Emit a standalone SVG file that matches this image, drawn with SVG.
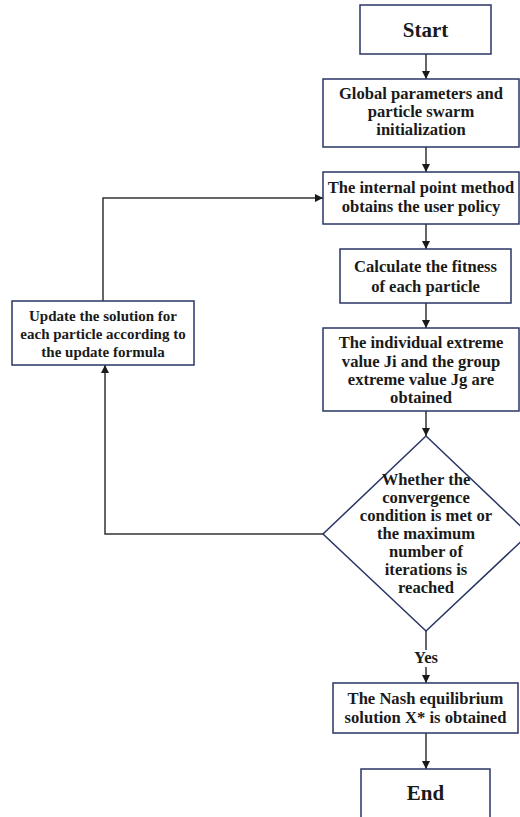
<svg xmlns="http://www.w3.org/2000/svg" width="520" height="817" viewBox="0 0 520 817">
<style>
.box{fill:#fff;stroke:#2a3566;stroke-width:1.5}
.t{font-family:"Liberation Serif","Times New Roman",serif;font-weight:bold;fill:#1a1a1a;text-anchor:middle}
.m{font-size:16.6px}
.s{font-size:15px}
.b{font-size:21px}
.c{fill:none;stroke:#333;stroke-width:1.5}
</style>
<defs>
<marker id="ah" viewBox="0 0 10 10" refX="10" refY="5" markerWidth="8" markerHeight="8" markerUnits="userSpaceOnUse" orient="auto">
<path d="M0,0 L10,5 L0,10 z" fill="#1a1a1a"/>
</marker>
</defs>
<rect width="520" height="817" fill="#fff"/>
<g id="connectors">
<line class="c" x1="426" y1="54" x2="426" y2="79" marker-end="url(#ah)"/>
<line class="c" x1="426" y1="147" x2="426" y2="172" marker-end="url(#ah)"/>
<line class="c" x1="426" y1="224" x2="426" y2="249" marker-end="url(#ah)"/>
<line class="c" x1="426" y1="303" x2="426" y2="328" marker-end="url(#ah)"/>
<line class="c" x1="426" y1="411" x2="426" y2="436" marker-end="url(#ah)"/>
<line class="c" x1="426" y1="631" x2="426" y2="650"/>
<line class="c" x1="426" y1="667" x2="426" y2="683" marker-end="url(#ah)"/>
<line class="c" x1="426" y1="733" x2="426" y2="769" marker-end="url(#ah)"/>
<polyline class="c" points="323,534 105,534 105,365" marker-end="url(#ah)"/>
<polyline class="c" points="103,301 103,198 323,198" marker-end="url(#ah)"/>
<text class="t m" x="426" y="663">Yes</text>
</g>
<g id="start">
<rect class="box" x="360" y="5" width="131" height="49"/>
<text class="t b" x="425.5" y="37">Start</text>
</g>
<g id="init">
<rect class="box" x="323" y="79" width="196" height="68"/>
<text class="t m" x="421" y="99">Global parameters and</text>
<text class="t m" x="421" y="117">particle swarm</text>
<text class="t m" x="421" y="135">initialization</text>
</g>
<g id="ipm">
<rect class="box" x="323" y="172" width="196" height="52"/>
<text class="t m" x="421" y="193">The internal point method</text>
<text class="t m" x="421" y="212">obtains the user policy</text>
</g>
<g id="fitness">
<rect class="box" x="340" y="249" width="171" height="54"/>
<text class="t m" x="425.5" y="272">Calculate the fitness</text>
<text class="t m" x="425.5" y="292">of each particle</text>
</g>
<g id="extreme">
<rect class="box" x="323" y="328" width="196" height="83"/>
<text class="t m" x="421" y="348">The individual extreme</text>
<text class="t m" x="421" y="367">value Ji and the group</text>
<text class="t m" x="421" y="385">extreme value Jg are</text>
<text class="t m" x="421" y="403">obtained</text>
</g>
<g id="decision">
<polygon class="box" points="426,436 529,534 426,631 323,534"/>
<text class="t m" x="426" y="485">Whether the</text>
<text class="t m" x="426" y="503">convergence</text>
<text class="t m" x="426" y="521">condition is met or</text>
<text class="t m" x="426" y="539">the maximum</text>
<text class="t m" x="426" y="557">number of</text>
<text class="t m" x="426" y="575">iterations is</text>
<text class="t m" x="426" y="593">reached</text>
</g>
<g id="update">
<rect class="box" x="12" y="301" width="182" height="64"/>
<text class="t s" x="103" y="321">Update the solution for</text>
<text class="t s" x="103" y="339">each particle according to</text>
<text class="t s" x="103" y="357">the update formula</text>
</g>
<g id="nash">
<rect class="box" x="333" y="683" width="185" height="50"/>
<text class="t m" x="425.5" y="704">The Nash equilibrium</text>
<text class="t m" x="425.5" y="723">solution X* is obtained</text>
</g>
<g id="end">
<rect class="box" x="361" y="769" width="129" height="52"/>
<text class="t b" x="425.5" y="800">End</text>
</g>
</svg>
